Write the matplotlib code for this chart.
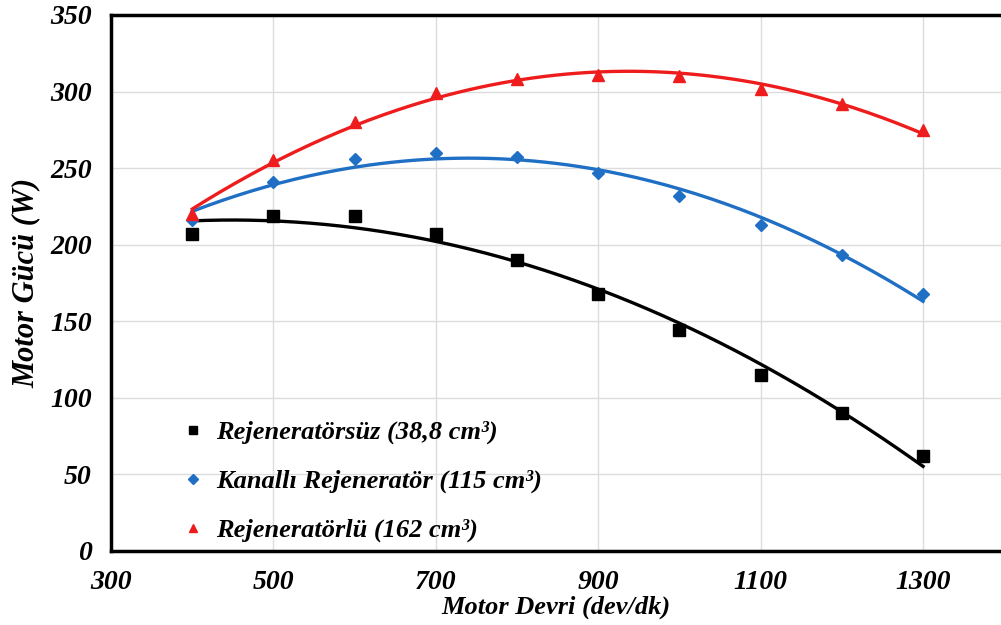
import matplotlib.pyplot as plt
import numpy as np

devir = [400, 500, 600, 700, 800, 900, 1000, 1100, 1200, 1300]
rejsiz = [207, 219, 219, 207, 190, 168, 144, 115, 90, 62]
kanalli = [216, 241, 256, 260, 257, 247, 232, 213, 193, 168]
rejli = [220, 255, 280, 299, 308, 311, 310, 302, 292, 275]

labels = ["Rejeneratörsüz (38,8 cm³)",
          "Kanallı Rejeneratör (115 cm³)",
          "Rejeneratörlü (162 cm³)"]
colors = ["black", "#1f6fc5", "#ee1c1c"]
markers = ["s", "D", "^"]
msizes = [8, 6.5, 8]

plt.rcParams['font.family'] = ['Liberation Serif', 'DejaVu Serif']
fnt = dict(fontweight='bold', fontstyle='italic')

fig = plt.figure(figsize=(10.01, 6.25), dpi=100)
ax = fig.add_axes([0.111, 0.1184, 0.889, 0.8576])

xs = np.linspace(400, 1300, 200)
for y, c, m, ms, lab in zip([rejsiz, kanalli, rejli], colors, markers, msizes, labels):
    # trend line: 2nd order polynomial fit like Excel
    p = np.polyfit(devir, y, 2)
    ax.plot(xs, np.polyval(p, xs), color=c, linewidth=2.4, zorder=2)
    ax.plot(devir, y, linestyle='none', marker=m, color=c, markersize=ms, label=lab, zorder=3)

ax.set_xlim(300, 1396)
ax.set_ylim(0, 350)
ax.set_xticks([300, 500, 700, 900, 1100, 1300])
ax.set_yticks(range(0, 351, 50))
ax.grid(True, color='#dcdcdc', linewidth=1)
ax.set_axisbelow(True)
ax.tick_params(length=0, labelsize=20)
ax.tick_params(axis='y', pad=14)
ax.tick_params(axis='x', pad=14)
for t in ax.get_xticklabels() + ax.get_yticklabels():
    t.set_fontweight('bold')
    t.set_fontstyle('italic')
for s in ['left', 'bottom', 'top']:
    ax.spines[s].set_linewidth(2.5)
ax.spines['right'].set_visible(False)

ax.set_xlabel("Motor Devri (dev/dk)", fontsize=19, labelpad=0, **fnt)
ax.set_ylabel("Motor Gücü (W)", fontsize=22, labelpad=7, **fnt)

leg = ax.legend(loc='lower left', bbox_to_anchor=(0.047, -0.028), frameon=False,
                prop=dict(family='Liberation Serif', size=19, weight='bold', style='italic'),
                handletextpad=0.3, labelspacing=0.95, handlelength=1.2, markerscale=0.8)

plt.savefig('out.png', dpi=100)
